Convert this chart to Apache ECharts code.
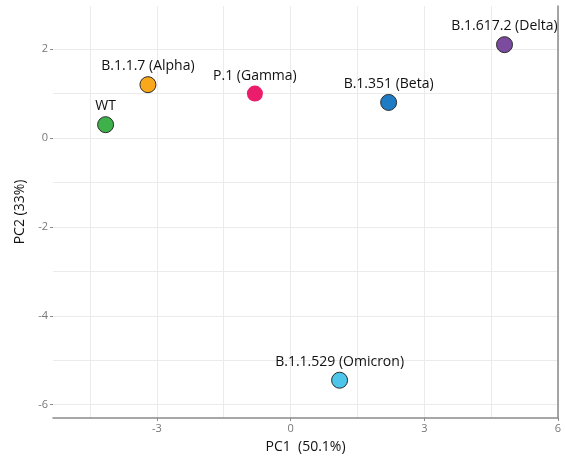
<!DOCTYPE html>
<html>
<head>
<meta charset="utf-8">
<script src="https://cdn.jsdelivr.net/npm/echarts@6/dist/echarts.min.js"></script>
<style>
  html, body { margin: 0; padding: 0; background: #fff; }
  #chart { width: 565px; height: 461px; }
</style>
</head>
<body>
<div id="chart"></div>
<script>
// PCA scores per variant
const variants = ['WT', 'B.1.1.7 (Alpha)', 'P.1 (Gamma)', 'B.1.351 (Beta)', 'B.1.617.2 (Delta)', 'B.1.1.529 (Omicron)'];
const pc1 = [-4.15, -3.2, -0.8, 2.2, 4.8, 1.1];
const pc2 = [0.3, 1.2, 1.0, 0.8, 2.1, -5.45];
const colors = ['#3fb14a', '#f9a81c', '#ec1c6c', '#1f7cc4', '#7b4b9f', '#4dc6ea'];
const outlined = [true, true, false, true, true, true];

const xTicks = [-3, 0, 3, 6];
const xMinor = [-4.5, -1.5, 1.5, 4.5];
const yTicks = [-6, -4, -2, 0, 2];
const yMinor = [-5, -3, -1, 1];

const X_MIN = -5.33, X_MAX = 6, Y_MIN = -6.3, Y_MAX = 2.97;
const FONT = '"Open Sans", "Noto Sans", sans-serif';
const gridColor = '#ebebeb';

const points = variants.map((name, i) => ({
  name,
  value: [pc1[i], pc2[i]],
  itemStyle: {
    color: colors[i],
    opacity: 1,
    borderColor: outlined[i] ? '#2b2b2b' : colors[i],
    borderWidth: outlined[i] ? 1 : 0
  }
}));

const chart = echarts.init(document.getElementById('chart'), null, { renderer: 'canvas' });
chart.setOption({
  animation: false,
  backgroundColor: '#fff',
  grid: { left: 53, right: 7, top: 6, bottom: 43, containLabel: false },
  xAxis: [
    {
      type: 'value', min: X_MIN, max: X_MAX,
      name: 'PC1  (50.1%)', nameLocation: 'middle', nameGap: 22,
      nameTextStyle: { fontFamily: FONT, fontSize: 14, color: '#111' },
      axisLine: { show: true, onZero: false, lineStyle: { color: '#8a8a8a', width: 1.5 } },
      axisTick: { show: true, customValues: xTicks, length: 3, lineStyle: { color: '#8a8a8a' } },
      axisLabel: { customValues: xTicks, fontFamily: FONT, fontSize: 11, color: '#777', margin: 5 },
      splitLine: { show: true, lineStyle: { color: gridColor, width: 1 } }
    },
    {
      type: 'value', min: X_MIN, max: X_MAX, position: 'bottom',
      axisLine: { show: false, onZero: false }, axisTick: { show: false, customValues: xMinor },
      axisLabel: { show: false, customValues: xMinor },
      splitLine: { show: true, lineStyle: { color: gridColor, width: 1 } }
    }
  ],
  yAxis: [
    {
      type: 'value', min: Y_MIN, max: Y_MAX,
      name: 'PC2 (33%)', nameLocation: 'middle', nameGap: 23,
      nameTextStyle: { fontFamily: FONT, fontSize: 14, color: '#111' },
      axisLine: { show: false, onZero: false },
      axisTick: { show: true, customValues: yTicks, length: 3, lineStyle: { color: '#8a8a8a' } },
      axisLabel: { customValues: yTicks, fontFamily: FONT, fontSize: 11, color: '#777', margin: 5 },
      splitLine: { show: true, lineStyle: { color: gridColor, width: 1 } }
    },
    {
      type: 'value', min: Y_MIN, max: Y_MAX, position: 'left',
      axisLine: { show: false, onZero: false }, axisTick: { show: false, customValues: yMinor },
      axisLabel: { show: false, customValues: yMinor },
      splitLine: { show: true, lineStyle: { color: gridColor, width: 1 } }
    },
    {
      type: 'value', min: Y_MIN, max: Y_MAX, position: 'right',
      axisLine: { show: true, onZero: false, lineStyle: { color: '#8a8a8a', width: 1.5 } },
      axisTick: { show: false }, axisLabel: { show: false }, splitLine: { show: false }
    }
  ],
  series: [{
    type: 'scatter',
    xAxisIndex: 0, yAxisIndex: 0,
    symbolSize: 16,
    data: points,
    label: {
      show: true, position: 'top', distance: 3,
      formatter: p => p.name,
      fontFamily: FONT, fontSize: 14, color: '#111'
    }
  }]
});
</script>
</body>
</html>
